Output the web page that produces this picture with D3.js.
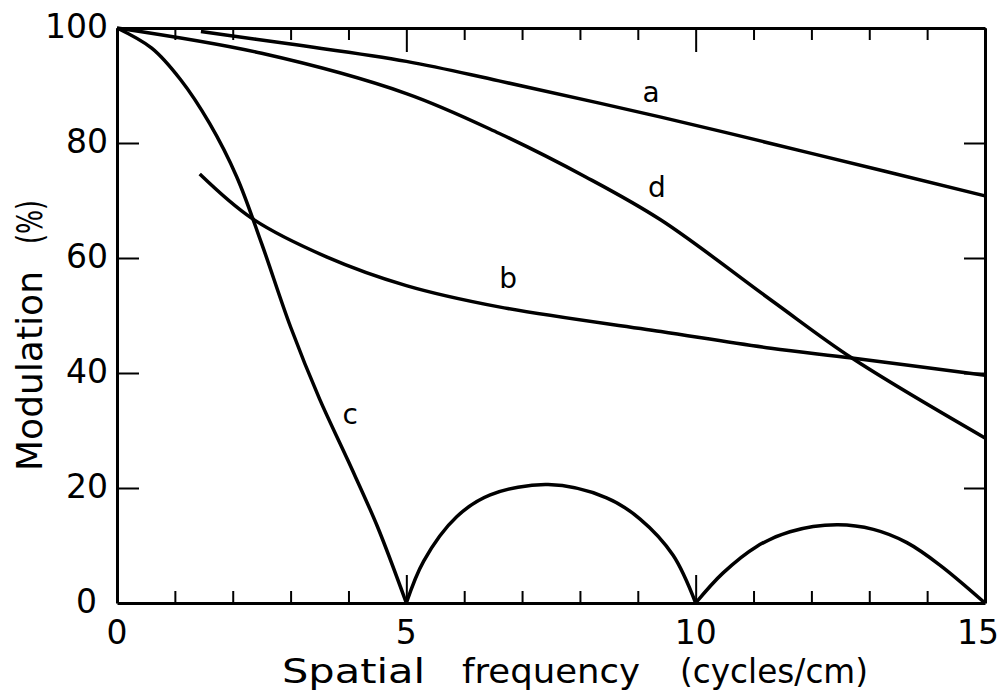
<!DOCTYPE html>
<html><head><meta charset="utf-8">
<script src="https://cdn.jsdelivr.net/npm/d3@7"></script>
<style>
body{margin:0;background:#fff}
svg{display:block}
text{font-family:"DejaVu Sans",sans-serif;fill:#000}
</style></head>
<body><svg id="chart" width="1002" height="695"></svg>
<script>
// ---- data ----
const xTickValues = [0,1,2,3,4,5,6,7,8,9,10,11,12,13,14,15];
const xTickLabels = ["0","5","10","15"];
const xLabelValues = [0,5,10,15];
const yTickValues = [0,20,40,60,80,100];
const yTickLabels = ["0","20","40","60","80","100"];
const curveA = [[1.45,99.4],[3,97.2],[5,94.2],[6.6,90.8],[9.4,84.5],[12,78.2],[15,70.8]];
const curveB = [[1.43,74.6],[2.33,66.9],[3.62,60.2],[5,55.2],[6.6,51.5],[9.4,47.2],[11.3,44.3],[12.7,42.6],[15,39.6]];
const curveD = [[0,100],[2.5,95.6],[5,88.6],[6.6,81.7],[8.1,74.1],[9.4,66.6],[11.3,52.7],[12.7,42.6],[15,28.7]];
const curveC1 = [[0,100],[0.6,96.5],[1.1,91],[1.6,83.4],[2.07,74.1],[2.5,62.5],[3,48],[3.5,35.5],[4,24.6],[4.5,13.3],[5,0]];
const curveC2 = [[5,0],[5.3,7.3],[5.87,15],[6.45,18.8],[7.45,20.6],[8.46,18.3],[9.04,14.6],[9.61,8.3],[10,0]];
const curveC3 = [[10,0],[10.47,5.2],[11.05,9.8],[11.63,12.4],[12.44,13.6],[13.07,12.8],[13.65,10.5],[14.22,6.6],[15,0]];
const curveLabels = ["a","b","c","d"];
const curveLabelX = [9.23,6.76,4.03,9.33];
const curveLabelY = [88.9,56.5,32.9,72.3];
const xTitle = ["Spatial","frequency","(cycles/cm)"];
const yTitle = ["Modulation","(%)"];

// ---- layout ----
const svg = d3.select("#chart");
const x = d3.scaleLinear().domain([0,15]).range([117,985]);
const y = d3.scaleLinear().domain([0,100]).range([603,28]);

const gAxes = svg.append("g");
function styleAxis(g){
  g.select(".domain").attr("stroke","#000").attr("stroke-width",3);
  g.selectAll(".tick line").attr("stroke","#000").attr("stroke-width",2);
  g.selectAll(".tick text").remove();
}
// bottom
const gb = gAxes.append("g").attr("transform",`translate(0,${y(0)})`)
  .call(d3.axisBottom(x).tickValues(xTickValues).tickSizeInner(-12).tickSizeOuter(0));
styleAxis(gb);
gb.selectAll(".tick line").filter(d=>d%5===0).attr("y2",-28);
// top
const gt = gAxes.append("g").attr("transform",`translate(0,${y(100)})`)
  .call(d3.axisTop(x).tickValues(xTickValues).tickSizeInner(-12).tickSizeOuter(0));
styleAxis(gt);
gt.selectAll(".tick line").filter(d=>d%5===0).attr("y2",24);
// left
const gl = gAxes.append("g").attr("transform",`translate(${x(0)},0)`)
  .call(d3.axisLeft(y).tickValues(yTickValues).tickSizeInner(-22).tickSizeOuter(0));
styleAxis(gl);
// right
const gr = gAxes.append("g").attr("transform",`translate(${x(15)},0)`)
  .call(d3.axisRight(y).tickValues(yTickValues).tickSizeInner(-21).tickSizeOuter(0));
styleAxis(gr);
[gl,gr].forEach(g=>g.selectAll(".tick line").filter(d=>d===0||d===100).remove());

// tick labels
svg.append("g").selectAll("text").data(xLabelValues).join("text")
  .attr("x",d=>d===15?999:x(d)).attr("y",644)
  .attr("text-anchor",d=>d===15?"end":"middle")
  .attr("font-size",33).text((d,i)=>xTickLabels[i]);
svg.append("g").selectAll("text").data(yTickValues).join("text")
  .attr("x",d=>d===0?97:108).attr("y",d=>y(d)-2).attr("dy","0.36em")
  .attr("text-anchor","end").attr("font-size",33).text((d,i)=>yTickLabels[i]);

// titles
const xt = svg.append("text").attr("y",683).attr("font-size",34);
const xPos = [282,462,680], xLen=[143,178,188];
xTitle.forEach((w,i)=>{
  xt.append("tspan").attr("x",xPos[i]).attr("textLength",xLen[i]).attr("lengthAdjust","spacingAndGlyphs").text(w);
});
const yt = svg.append("text").attr("transform","translate(42,0) rotate(-90)").attr("font-size",35);
const yPos = [-471,-244], yLen=[200,44];
yTitle.forEach((w,i)=>{
  yt.append("tspan").attr("x",yPos[i]).attr("textLength",yLen[i]).attr("lengthAdjust","spacingAndGlyphs").text(w);
});

// curves
const line = d3.line().x(d=>x(d[0])).y(d=>y(d[1])).curve(d3.curveCatmullRom.alpha(0.5));
const gc = svg.append("g").attr("fill","none").attr("stroke","#000")
  .attr("stroke-width",3.5).attr("stroke-linejoin","round").attr("stroke-linecap","butt");
[curveA,curveB,curveD,curveC1,curveC2,curveC3].forEach(c=>{
  gc.append("path").attr("d",line(c));
});

// curve labels
svg.append("g").selectAll("text").data(curveLabels).join("text")
  .attr("x",(d,i)=>x(curveLabelX[i])).attr("y",(d,i)=>y(curveLabelY[i]))
  .attr("dy","0.36em").attr("text-anchor","middle").attr("font-size",28).text(d=>d);
</script></body></html>
